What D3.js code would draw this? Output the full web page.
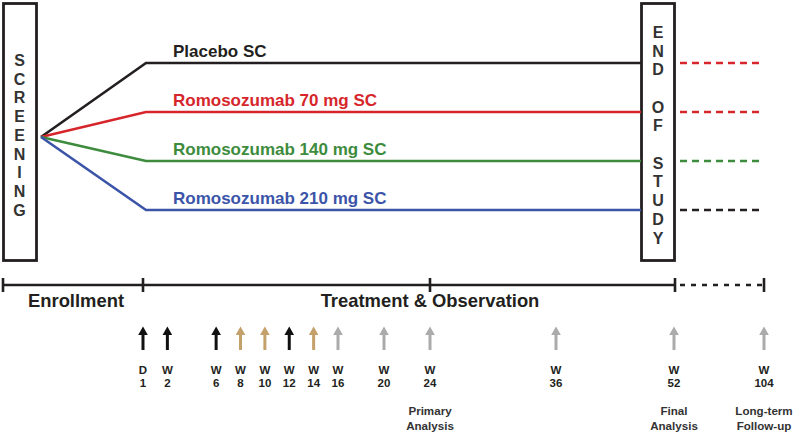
<!DOCTYPE html>
<html><head><meta charset="utf-8">
<script src="https://cdn.jsdelivr.net/npm/d3@7"></script>
<style>html,body{margin:0;padding:0;background:#fff;}svg{display:block;font-family:"Liberation Sans",Arial,sans-serif;}</style>
</head><body><div id="chart"></div>
<script>
// ---- data ----
const arms = ["Placebo SC", "Romosozumab 70 mg SC", "Romosozumab 140 mg SC", "Romosozumab 210 mg SC"];
const armColors = ["#231f20", "#d6262b", "#3d8b3d", "#3b54a8"];
const followColors = ["#d6262b", "#d6262b", "#3d8b3d", "#231f20"];
const visitWeeks = [0, 2, 6, 8, 10, 12, 14, 16, 20, 24, 36, 52, 104];
const visitPrefix = ["D", "W", "W", "W", "W", "W", "W", "W", "W", "W", "W", "W", "W"];
const visitNumber = ["1", "2", "6", "8", "10", "12", "14", "16", "20", "24", "36", "52", "104"];
const visitType = ["dose", "dose", "dose", "tan", "tan", "dose", "tan", "visit", "visit", "visit", "visit", "visit", "visit"];
const visitNotes = {24: ["Primary", "Analysis"], 52: ["Final", "Analysis"], 104: ["Long-term", "Follow-up"]};
const phases = [{label: "Enrollment", at: null}, {label: "Treatment & Observation", at: 24}];
const phaseTicks = [0, 24, 52];
const screeningText = "SCREENING".split("");
const endText = ["E","N","D","","O","F","","S","T","U","D","Y"];

const W = 794, H = 432;
const svg = d3.select("#chart").append("svg").attr("width", W).attr("height", H);
const dark = "#231f20";

// piecewise week scale for horizontal positions
const x = d3.scaleLinear().domain([0, 16, 24, 36, 52, 104]).range([143, 338, 430, 556, 674, 764]);
const leftEdge = 3;
const y = d3.scalePoint().domain(arms).range([63, 210]);
const typeColor = d3.scaleOrdinal().domain(["dose", "tan", "visit"]).range(["#111111", "#c4a06b", "#ababab"]);

// Screening box
svg.append("rect").attr("x", 3.5).attr("y", 3.5).attr("width", 33).attr("height", 257)
  .attr("fill", "none").attr("stroke", dark).attr("stroke-width", 2.8);
svg.append("g").selectAll("text").data(screeningText).join("text")
  .attr("x", 19.5).attr("y", (d, i) => 60 + i * 18.75 + 5.8)
  .attr("text-anchor", "middle").attr("font-size", 16).attr("font-weight", "bold").attr("fill", "#333")
  .text(d => d);

// End of study box
svg.append("rect").attr("x", 641.5).attr("y", 3.5).attr("width", 33).attr("height", 257)
  .attr("fill", "none").attr("stroke", dark).attr("stroke-width", 2.8);
svg.append("g").selectAll("text").data(endText).join("text")
  .attr("x", 658).attr("y", (d, i) => 32 + i * 18.7 + 5.8)
  .attr("text-anchor", "middle").attr("font-size", 16).attr("font-weight", "bold").attr("fill", "#333")
  .text(d => d);

// Arm lines
const origin = [41, 137];
const line = d3.line();
svg.append("g").selectAll("path").data(arms).join("path")
  .attr("d", d => line([origin, [x(0) + 3, y(d)], [641, y(d)]]))
  .attr("fill", "none").attr("stroke", (d, i) => armColors[i]).attr("stroke-width", 2.6)
  .attr("stroke-linejoin", "miter");
svg.append("g").selectAll("text").data(arms).join("text")
  .attr("x", 173).attr("y", d => y(d) - 6)
  .attr("font-size", 17).attr("font-weight", "bold").attr("fill", (d, i) => armColors[i])
  .text(d => d);
// follow-up dashes
svg.append("g").selectAll("line").data(arms).join("line")
  .attr("x1", 680).attr("x2", 760).attr("y1", d => y(d)).attr("y2", d => y(d))
  .attr("stroke", (d, i) => followColors[i]).attr("stroke-width", 2.6).attr("stroke-dasharray", "7,5");

// Timeline
const ty = 285;
svg.append("line").attr("x1", leftEdge).attr("x2", x(52)).attr("y1", ty).attr("y2", ty)
  .attr("stroke", dark).attr("stroke-width", 2.6);
svg.append("line").attr("x1", x(52) + 6).attr("x2", x(104)).attr("y1", ty).attr("y2", ty)
  .attr("stroke", dark).attr("stroke-width", 2.6).attr("stroke-dasharray", "5,6");
svg.append("g").selectAll("line").data([leftEdge, ...phaseTicks.map(x), x(104)]).join("line")
  .attr("x1", d => d + (d === x(52) ? 1 : 0)).attr("x2", d => d + (d === x(52) ? 1 : 0))
  .attr("y1", ty - 7).attr("y2", ty + 7)
  .attr("stroke", dark).attr("stroke-width", 2.6);
svg.append("g").selectAll("text").data(phases).join("text")
  .attr("x", d => d.at === null ? 76 : x(d.at))
  .attr("y", 307).attr("text-anchor", "middle")
  .attr("font-size", 18.4).attr("font-weight", "bold").attr("fill", dark)
  .text(d => d.label);

// Visit arrows
const visits = visitWeeks.map((w, i) => ({w, p: visitPrefix[i], n: visitNumber[i], t: visitType[i]}));
const g = svg.append("g").selectAll("g").data(visits).join("g")
  .attr("transform", d => `translate(${x(d.w)},0)`);
g.append("line").attr("x1", 0).attr("x2", 0).attr("y1", 333).attr("y2", 350)
  .attr("stroke", d => typeColor(d.t)).attr("stroke-width", 3);
g.append("path").attr("d", "M-4.8,335 L0,326.5 L4.8,335 Z").attr("fill", d => typeColor(d.t));
g.append("text").attr("y", 374).attr("text-anchor", "middle").attr("font-size", 11.5)
  .attr("font-weight", "bold").attr("fill", dark).text(d => d.p);
g.append("text").attr("y", 387).attr("text-anchor", "middle").attr("font-size", 11.5)
  .attr("font-weight", "bold").attr("fill", dark).text(d => d.n);
g.filter(d => visitNotes[d.w]).each(function(d) {
  d3.select(this).selectAll("text.note").data(visitNotes[d.w]).join("text").attr("class", "note")
    .attr("y", (t, i) => 415 + i * 14.5).attr("text-anchor", "middle").attr("font-size", 11.6)
    .attr("font-weight", "bold").attr("fill", "#333").text(t => t);
});
</script></body></html>
